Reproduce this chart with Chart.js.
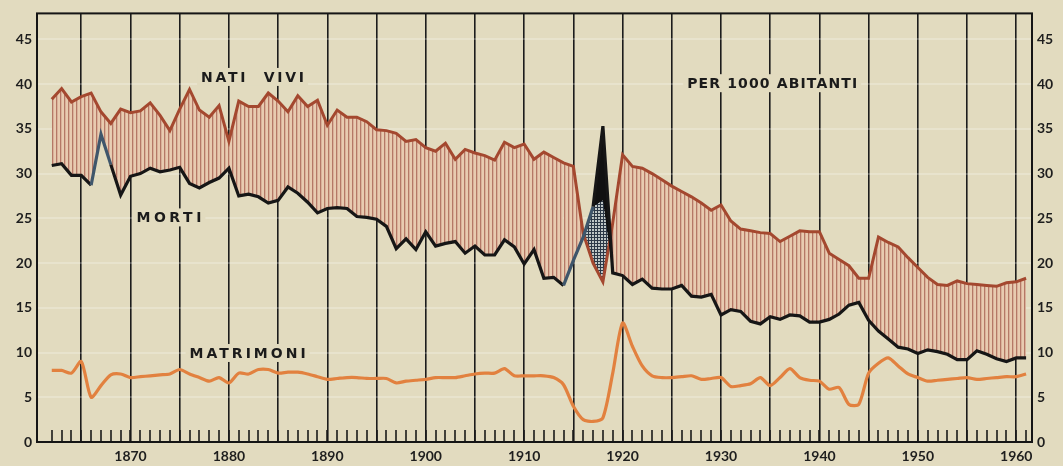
<!DOCTYPE html>
<html><head><meta charset="utf-8">
<script src="https://cdn.jsdelivr.net/npm/chart.js@4.4.1/dist/chart.umd.min.js"></script>
<style>html,body{margin:0;padding:0;background:#e2dbbf;overflow:hidden}</style>
</head><body>
<canvas id="c" width="1063" height="466"></canvas>
<script>
const years = [1862,1863,1864,1865,1866,1867,1868,1869,1870,1871,
1872,1873,1874,1875,1876,1877,1878,1879,1880,1881,
1882,1883,1884,1885,1886,1887,1888,1889,1890,1891,
1892,1893,1894,1895,1896,1897,1898,1899,1900,1901,
1902,1903,1904,1905,1906,1907,1908,1909,1910,1911,
1912,1913,1914,1915,1916,1917,1918,1919,1920,1921,
1922,1923,1924,1925,1926,1927,1928,1929,1930,1931,
1932,1933,1934,1935,1936,1937,1938,1939,1940,1941,
1942,1943,1944,1945,1946,1947,1948,1949,1950,1951,
1952,1953,1954,1955,1956,1957,1958,1959,1960,1961];

const nati = [38.3,39.5,38.0,38.6,39.0,36.9,35.6,37.2,36.8,37.0,
37.9,36.5,34.8,37.2,39.4,37.1,36.3,37.6,33.6,38.1,
37.5,37.5,39.0,38.1,36.9,38.7,37.5,38.2,35.4,37.1,
36.3,36.3,35.8,34.9,34.8,34.5,33.6,33.8,32.9,32.5,
33.4,31.6,32.7,32.3,32.0,31.5,33.5,32.9,33.3,31.6,
32.4,31.8,31.2,30.8,23.3,20.0,17.9,24.5,32.1,30.8,
30.6,30.0,29.3,28.6,28.0,27.4,26.7,25.9,26.5,24.7,
23.8,23.6,23.4,23.3,22.4,23.0,23.6,23.5,23.5,21.1,
20.4,19.7,18.3,18.3,22.9,22.3,21.8,20.6,19.5,18.4,
17.6,17.5,18.0,17.7,17.6,17.5,17.4,17.8,17.9,18.3];

const morti = [30.9,31.1,29.8,29.8,28.7,34.4,31.0,27.6,29.7,30.0,
30.6,30.2,30.4,30.7,28.9,28.4,29.0,29.5,30.6,27.5,
27.7,27.4,26.7,27.0,28.5,27.8,26.8,25.6,26.1,26.2,
26.1,25.2,25.1,24.9,24.1,21.6,22.7,21.5,23.5,21.9,
22.2,22.4,21.1,21.9,20.9,20.9,22.6,21.8,19.9,21.5,
18.3,18.4,17.5,20.3,22.9,26.3,35.3,18.9,18.6,17.6,
18.2,17.2,17.1,17.1,17.5,16.3,16.2,16.5,14.2,14.8,
14.6,13.5,13.2,14.0,13.7,14.2,14.1,13.4,13.4,13.7,
14.3,15.3,15.6,13.6,12.4,11.5,10.6,10.4,9.9,10.3,
10.1,9.8,9.2,9.2,10.2,9.8,9.3,9.0,9.4,9.4];

// lower edge of the black (solid) part of the 1918 peak
const mortiBase = [30.9,31.1,29.8,29.8,28.7,34.4,31.0,27.6,29.7,30.0,
30.6,30.2,30.4,30.7,28.9,28.4,29.0,29.5,30.6,27.5,
27.7,27.4,26.7,27.0,28.5,27.8,26.8,25.6,26.1,26.2,
26.1,25.2,25.1,24.9,24.1,21.6,22.7,21.5,23.5,21.9,
22.2,22.4,21.1,21.9,20.9,20.9,22.6,21.8,19.9,21.5,
18.3,18.4,17.5,20.3,22.9,26.3,27.0,18.9,18.6,17.6,
18.2,17.2,17.1,17.1,17.5,16.3,16.2,16.5,14.2,14.8,
14.6,13.5,13.2,14.0,13.7,14.2,14.1,13.4,13.4,13.7,
14.3,15.3,15.6,13.6,12.4,11.5,10.6,10.4,9.9,10.3,
10.1,9.8,9.2,9.2,10.2,9.8,9.3,9.0,9.4,9.4];

const matrimoni = [8.0,8.0,7.7,9.0,5.0,6.3,7.5,7.6,7.2,7.3,
7.4,7.5,7.6,8.1,7.6,7.2,6.8,7.2,6.6,7.7,
7.6,8.1,8.1,7.7,7.8,7.8,7.6,7.3,7.0,7.1,
7.2,7.2,7.1,7.1,7.1,6.6,6.8,6.9,7.0,7.2,
7.2,7.2,7.4,7.6,7.7,7.7,8.2,7.4,7.4,7.4,
7.4,7.2,6.4,4.0,2.5,2.3,2.7,7.7,13.3,10.7,
8.5,7.4,7.2,7.2,7.3,7.4,7.0,7.1,7.2,6.2,
6.3,6.5,7.2,6.3,7.2,8.2,7.2,6.9,6.8,5.9,
6.1,4.2,4.2,7.7,8.8,9.4,8.5,7.6,7.2,6.8,
6.9,7.0,7.1,7.2,7.0,7.1,7.2,7.3,7.3,7.6];

const yTickValues = [0,5,10,15,20,25,30,35,40,45];
const xLabelYears = [1870,1880,1890,1900,1910,1920,1930,1940,1950,1960];

// years where the death line is printed in blue-grey
const blueYears = [1866,1867,1914,1915,1916];

const textLabels = ['NATI  VIVI','MORTI','MATRIMONI','PER 1000 ABITANTI'];
const textYears  = [1882.4, 1873.9, 1881.9, 1935.2];
const textValues = [40.8, 25.1, 9.95, 40.1];
const textWidths = [103, 65, 116, 170];

const paper = '#e2dbbf';

function makeStripes(){
  const c = document.createElement('canvas'); c.width = 4; c.height = 4;
  const g = c.getContext('2d');
  g.fillStyle = '#e8cbb0'; g.fillRect(0,0,4,4);
  g.fillStyle = '#b57866'; g.fillRect(0,0,1.3,4);
  return g.createPattern(c,'repeat');
}
function makeCross(){
  const c = document.createElement('canvas'); c.width = 3; c.height = 3;
  const g = c.getContext('2d');
  g.fillStyle = '#bfc7c6'; g.fillRect(0,0,3,3);
  g.fillStyle = '#2c3846'; g.fillRect(0,0,1,3); g.fillRect(0,0,3,1);
  return g.createPattern(c,'repeat');
}
const ctx0 = document.getElementById('c').getContext('2d');
const stripes = makeStripes();
const cross = makeCross();

const pts = arr => years.map((yr,i)=>({x:yr, y:arr[i]}));

const paperPlugin = {
  id:'paper',
  beforeDraw(chart){
    const {ctx,width,height} = chart;
    ctx.save(); ctx.fillStyle = paper; ctx.fillRect(0,0,width,height); ctx.restore();
  }
};

const decorPlugin = {
  id:'decor',
  beforeDatasetsDraw(chart){
    const {ctx, chartArea:a, scales:{x,y}} = chart;
    ctx.save();
    ctx.strokeStyle = '#1a1a1a'; ctx.lineWidth = 1.6;
    years.forEach(yr=>{
      const px = Math.round(x.getPixelForValue(yr));
      ctx.beginPath(); ctx.moveTo(px, a.bottom); ctx.lineTo(px, a.bottom-12); ctx.stroke();
    });
    ctx.font = 'bold 14px "DejaVu Sans", sans-serif';
    ctx.textBaseline = 'middle';
    ctx.textAlign = 'left';
    textLabels.forEach((t,i)=>{
      const cx = x.getPixelForValue(textYears[i]);
      const cy = y.getPixelForValue(textValues[i]);
      const w = textWidths[i];
      ctx.fillStyle = paper;
      ctx.fillRect(cx - w/2 - 4, cy - 9, w + 8, 18);
      ctx.letterSpacing = '0px';
      const m = ctx.measureText(t).width;
      const ls = Math.max(0, (w - m) / (t.length - 1));
      ctx.letterSpacing = ls + 'px';
      ctx.fillStyle = '#1b1b1b';
      ctx.fillText(t, cx - w/2, cy + 1);
    });
    ctx.letterSpacing = '0px';
    ctx.restore();
  },
  afterDatasetsDraw(chart){
    const {ctx, chartArea:a} = chart;
    ctx.save();
    ctx.strokeStyle = '#151515'; ctx.lineWidth = 2;
    ctx.strokeRect(a.left, a.top, a.right - a.left, a.bottom - a.top);
    ctx.restore();
  }
};

const tickFont = {family:'Lato, "DejaVu Sans", sans-serif', size:14, weight:'bold'};

new Chart(ctx0, {
  type:'line',
  data:{
    datasets:[
      { label:'Morti', data:pts(morti), borderColor:'#161616', borderWidth:3.2,
        segment:{ borderColor: s => blueYears.includes(s.p0.parsed.x) ? '#3f566b' : undefined },
        pointRadius:0, tension:0, fill:{target:2, above:'#111111', below:'rgba(0,0,0,0)'}, order:0 },
      { label:'Nati vivi', data:pts(nati), borderColor:'#a4482f', borderWidth:3,
        pointRadius:0, tension:0, fill:{target:0, above:stripes, below:cross}, order:1 },
      { label:'base', data:pts(mortiBase), borderColor:'rgba(0,0,0,0)', borderWidth:0,
        pointRadius:0, tension:0, fill:false, order:2 },
      { label:'Matrimoni', data:pts(matrimoni), borderColor:'#e2813f', borderWidth:3.2,
        pointRadius:0, tension:0.25, fill:false, order:3 }
    ]
  },
  options:{
    responsive:false, animation:false, devicePixelRatio:1,
    layout:{padding:{top:13,left:0,right:0,bottom:0}},
    plugins:{legend:{display:false}, tooltip:{enabled:false}},
    scales:{
      x:{ type:'linear', min:1860.5, max:1961.6,
        afterFit:s=>{s.height = 24;},
        border:{display:false},
        grid:{ drawTicks:false,
          color:c => (c.tick && c.tick.value % 5 === 0 && c.tick.value >= 1865) ? '#1c1c1c' : 'rgba(0,0,0,0)',
          lineWidth:1.6 },
        ticks:{ stepSize:1, maxTicksLimit:500, autoSkip:false, includeBounds:false,
          maxRotation:0, minRotation:0, padding:6, color:'#1e1e1e', font:tickFont,
          callback:v => xLabelYears.includes(v) ? String(v) : '' }
      },
      y:{ position:'left', min:0, max:47.9,
        afterFit:s=>{s.width = 37;},
        border:{display:false},
        grid:{ drawTicks:false, color:'rgba(255,255,255,0.22)', lineWidth:2 },
        afterBuildTicks:s=>{ s.ticks = yTickValues.map(v=>({value:v})); },
        ticks:{ padding:5, color:'#1e1e1e', font:tickFont }
      },
      y2:{ position:'right', min:0, max:47.9,
        afterFit:s=>{s.width = 31;},
        border:{display:false},
        grid:{ display:false, drawTicks:false },
        afterBuildTicks:s=>{ s.ticks = yTickValues.map(v=>({value:v})); },
        ticks:{ padding:5, color:'#1e1e1e', font:tickFont }
      }
    }
  },
  plugins:[paperPlugin, decorPlugin]
});
</script>
</body></html>
